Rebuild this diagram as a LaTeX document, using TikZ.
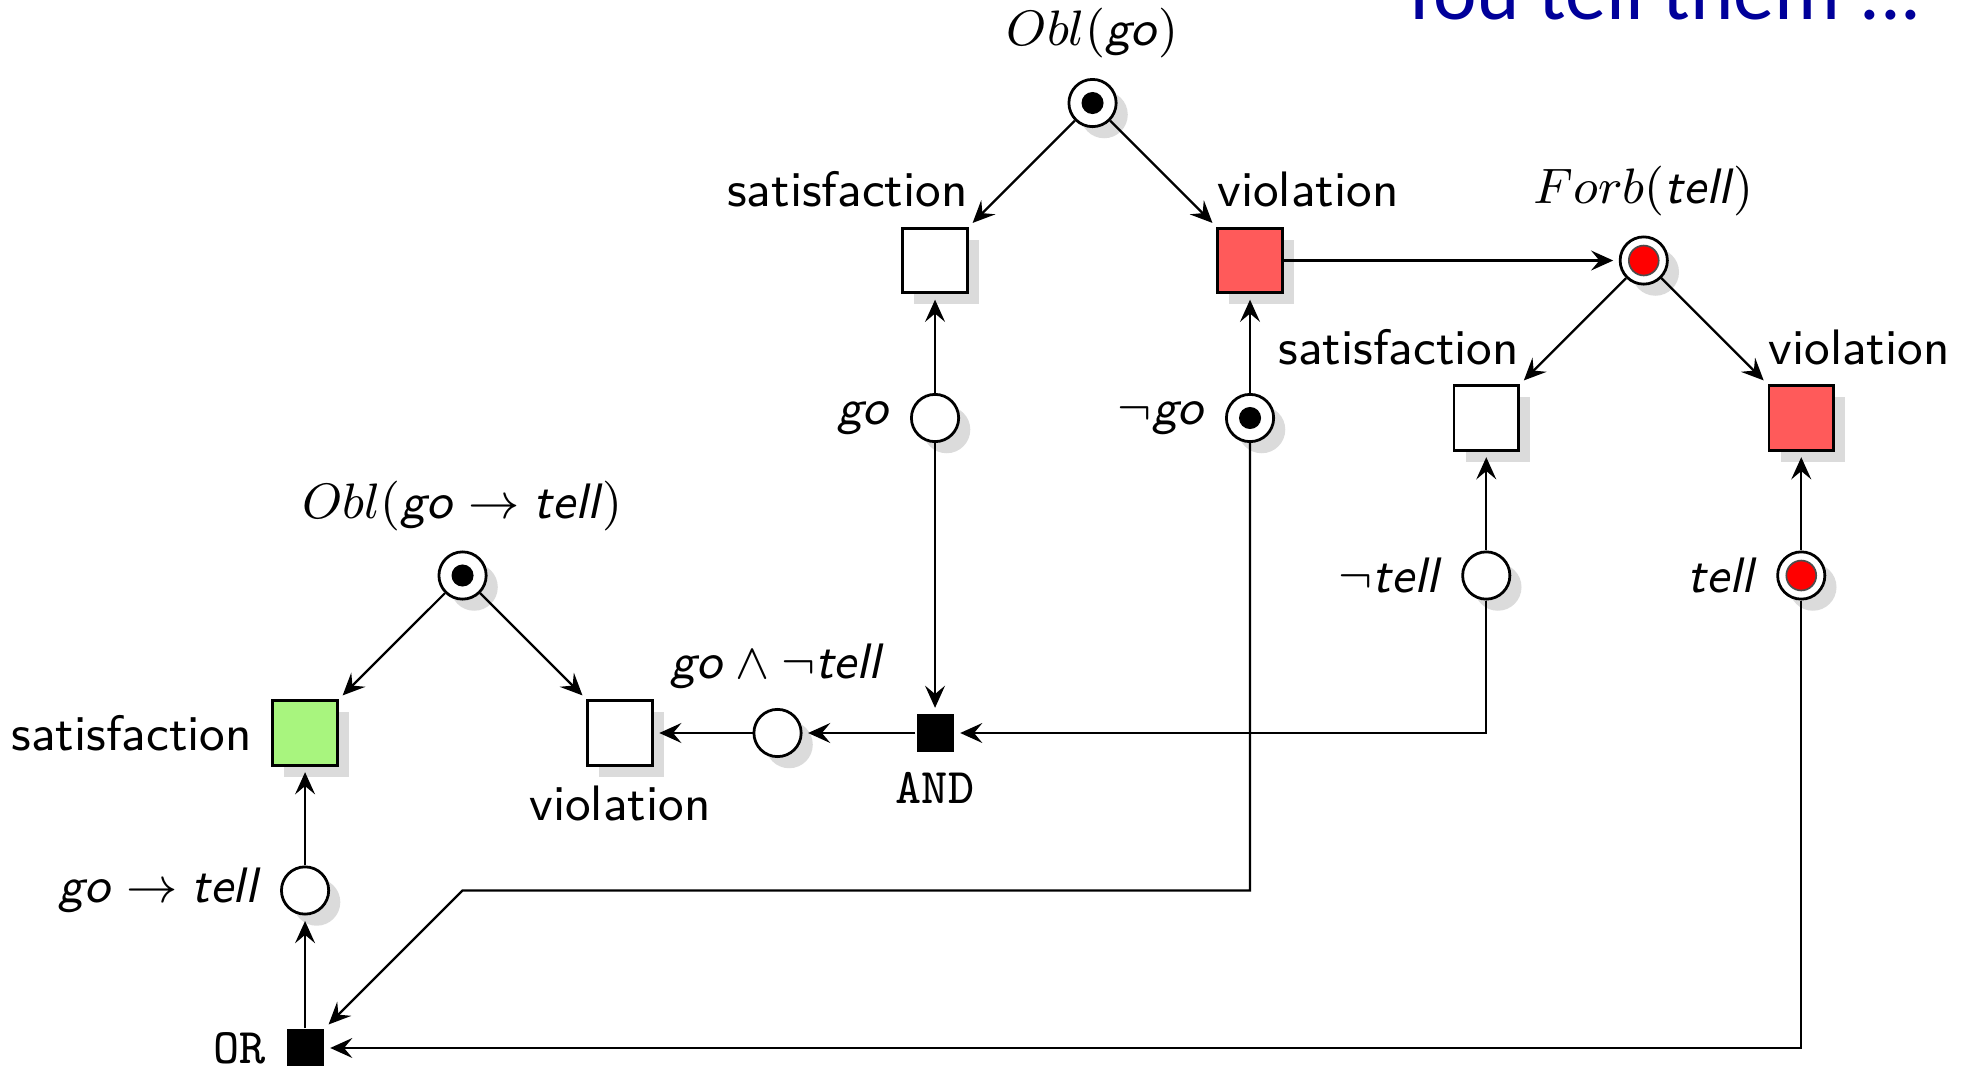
\documentclass[tikz,border=0pt]{standalone}
\usepackage{fontspec}
\newfontfamily\slidefont{Carlito}
\usetikzlibrary{arrows.meta,positioning,shadows}
\definecolor{cviol}{HTML}{FF5A5A}
\definecolor{csat}{HTML}{A8F57E}
\definecolor{cslide}{HTML}{00009A}
\newcommand{\atm}[1]{\textsf{\textit{#1}}}
\newcommand{\fsz}{\fontsize{9}{11}\selectfont}
\tikzset{
  >={Stealth[length=4pt,width=3.6pt,inset=1.5pt]},
  shd/.style={drop shadow={shadow xshift=2.1pt,shadow yshift=-2.1pt,fill=black!14,opacity=1}},
  place/.style={circle,draw,line width=0.5pt,fill=white,minimum size=0.3cm,inner sep=0pt,shd},
  tok/.style={path picture={\fill[black] (path picture bounding box.center) circle (0.07cm);}},
  redtok/.style={path picture={\filldraw[fill=red,draw=black!70,line width=0.3pt]
                 (path picture bounding box.center) circle (0.095cm);}},
  cond/.style={rectangle,draw,line width=0.5pt,fill=#1,minimum size=0.41cm,inner sep=0pt,shd},
  cond/.default=white,
  trans/.style={rectangle,fill=black,minimum size=0.235cm,inner sep=0pt},
  gate/.style={font=\ttfamily\fsz},
}
\begin{document}
\begin{tikzpicture}[font=\sffamily\fsz,node distance=1cm and 1cm,on grid,label distance=0pt]
\useasboundingbox (-1.937,0.654) rectangle (10.565,-6.121);

\node[font=\slidefont\fontsize{14.9}{17}\selectfont,text=cslide,anchor=base west,inner sep=0pt]
  (hd) at (6.94,0.533) {You tell them ...};

\node[place,tok,label={above:$Obl(\atm{go})$}] (og) at (5,0) {};
\node[cond,below left=of og,label={[anchor=south east,inner xsep=0pt]north east:satisfaction}] (s1) {};
\node[cond=cviol,below right=of og,label={[anchor=south west,inner xsep=0pt]north west:violation}] (v1) {};
\node[place,redtok,right=2.5cm of v1,label={above:$Forb(\atm{tell})$}] (fb) {};
\node[cond,below left=of fb,label={[anchor=south east,inner xsep=0pt]north east:satisfaction}] (s2) {};
\node[cond=cviol,below right=of fb,label={[anchor=south west,inner xsep=0pt]north west:violation}] (v2) {};

\node[place,below=of s1,label={left:\atm{go}}] (g) {};
\node[place,tok,below=of v1,label={left:$\neg$\atm{go}}] (ng) {};
\node[place,below=of s2,label={left:$\neg$\atm{tell}}] (nt) {};
\node[place,redtok,below=of v2,label={left:\atm{tell}}] (tl) {};

\node[trans,below=2cm of g,label={[gate]below:AND}] (and) {};
\node[place,left=of and,label={above:$\atm{go}\wedge\neg\atm{tell}$}] (gn) {};
\node[cond,left=of gn,label={below:violation}] (v3) {};
\node[place,tok,above left=of v3,label={above:$Obl(\atm{go}\rightarrow\atm{tell})$}] (o2) {};
\node[cond=csat,below left=of o2,label={left:satisfaction}] (s3) {};
\node[place,below=of s3,label={left:$\atm{go}\rightarrow\atm{tell}$}] (gt) {};
\node[trans,below=of gt,label={[gate]left:OR}] (or) {};

\foreach \a/\b in {og/s1,og/v1,v1/fb,fb/s2,fb/v2,g/s1,ng/v1,nt/s2,tl/v2,
                   g/and,and/gn,gn/v3,o2/s3,o2/v3,gt/s3,or/gt}
  \draw[->,shorten >=1pt] (\a) -- (\b);

\draw[->,shorten >=1pt] (nt) |- (and);
\draw[->,shorten >=1pt] (tl) |- (or);
\draw[->,shorten >=1pt] (ng) |- (o2 |- gt) -- (or);

\end{tikzpicture}
\end{document}
